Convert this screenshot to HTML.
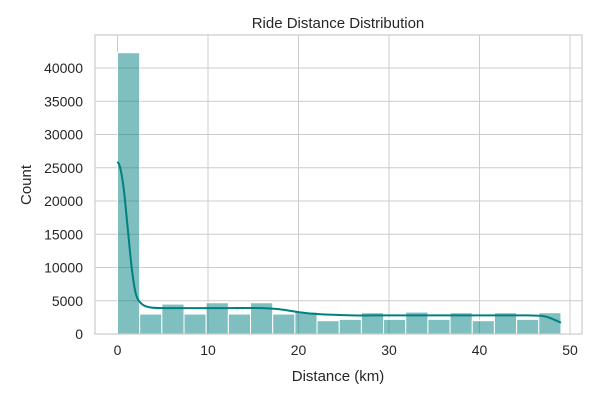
<!DOCTYPE html>
<html><head><meta charset="utf-8"><style>
body{margin:0;background:#fff;font-family:"Liberation Sans",sans-serif}
</style></head><body>
<svg id="c" width="600" height="400" xmlns="http://www.w3.org/2000/svg"></svg>
<script>
const binCounts=[42300,3000,4500,3000,4700,3000,4700,3000,3300,2000,2200,3200,2200,3300,2200,3200,2000,3200,2200,3200];
const binStart=0, binWidth=2.45;
const kdeX=[0,0.3,0.7,1.15,1.6,2.05,2.7,3.6,5,8,12,16,18,20,22,26,30,35,40,45,47,48,49];
const kdeY=[25900,25000,21700,15600,9600,5900,4500,4000,3900,3900,3900,3900,3700,3300,3000,2800,2800,2800,2800,2800,2700,2300,1700];
const yTicks=[0,5000,10000,15000,20000,25000,30000,35000,40000];
const xTicks=[0,10,20,30,40,50];
const L=95,R=582,T=35,B=334;
const sx=v=>117.5+v*9.05, sy=v=>334-v*(266/40000);
const svg=document.getElementById('c');const NS='http://www.w3.org/2000/svg';
function el(t,a,txt){const e=document.createElementNS(NS,t);for(const k in a)e.setAttribute(k,a[k]);if(txt!=null)e.textContent=txt;svg.appendChild(e);return e;}
yTicks.forEach(v=>{const g=el('line',{x1:L,x2:R,y1:sy(v),y2:sy(v),stroke:'#cccccc','stroke-width':1});

const t=el('text',{x:L-12,y:sy(v)+5,'text-anchor':'end','font-size':14,fill:'#262626'},v);
});
xTicks.forEach(v=>{const g=el('line',{x1:sx(v),x2:sx(v),y1:T,y2:B,stroke:'#cccccc','stroke-width':1});

const t=el('text',{x:sx(v),y:B+21,'text-anchor':'middle','font-size':14,fill:'#262626'},v);
});
binCounts.forEach((c,i)=>{const x0=sx(binStart+i*binWidth),x1=sx(binStart+(i+1)*binWidth);
const r=el('rect',{x:x0,y:sy(c),width:x1-x0,height:sy(0)-sy(c),fill:'rgba(0,128,128,0.5)',stroke:'#fff','stroke-width':1});
});
const pts=kdeX.map((x,i)=>[sx(x),sy(kdeY[i])]);
let d='M'+pts[0][0]+','+pts[0][1];
for(let i=0;i<pts.length-1;i++){const p0=pts[Math.max(0,i-1)],p1=pts[i],p2=pts[i+1],p3=pts[Math.min(pts.length-1,i+2)];
const c1=[p1[0]+(p2[0]-p0[0])/6,p1[1]+(p2[1]-p0[1])/6],c2=[p2[0]-(p3[0]-p1[0])/6,p2[1]-(p3[1]-p1[1])/6];
d+=' C'+c1+' '+c2+' '+p2;}
const p=el('path',{d:d,fill:'none',stroke:'#008080','stroke-width':2,'stroke-linejoin':'round'});

const f=el('rect',{x:L,y:T,width:R-L,height:B-T,fill:'none',stroke:'#cccccc','stroke-width':1.2});

const ti=el('text',{x:338,y:28,'text-anchor':'middle','font-size':15,fill:'#262626'},'Ride Distance Distribution');

const xl=el('text',{x:338,y:381,'text-anchor':'middle','font-size':15,fill:'#262626'},'Distance (km)');

const yl=el('text',{x:0,y:0,'text-anchor':'middle','font-size':15,fill:'#262626',transform:'translate(31,185) rotate(-90)'},'Count');

</script>
</body></html>
